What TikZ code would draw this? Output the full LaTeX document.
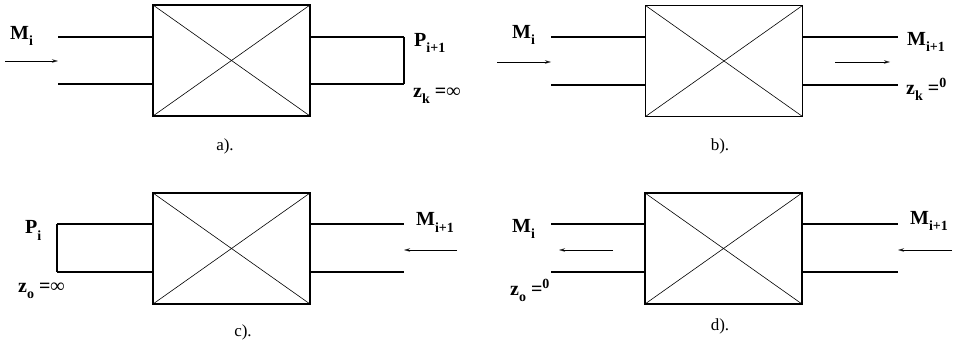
\documentclass[tikz,border=0pt]{standalone}
\usepackage{fontspec}
\setmainfont{Liberation Serif}
\usetikzlibrary{arrows.meta}

\tikzset{
    twoport/.style={draw, line width=1.5pt, minimum width=157pt, minimum height=111pt,
        inner sep=0pt,
        path picture={\draw[line width=0.6pt]
            (path picture bounding box.north west) -- (path picture bounding box.south east)
            (path picture bounding box.south west) -- (path picture bounding box.north east);}},
    wire/.style={line width=1.4pt},
    shortcut/.style={line width=2.6pt},
    flow/.style={line width=0.5pt, -{Stealth[length=6pt, width=3.5pt, open]}},
    lbl/.style={anchor=base west, inner sep=0pt, font=\fontsize{20}{22}\selectfont\bfseries},
    caption/.style={anchor=base, inner sep=0pt, font=\fontsize{17}{19}\selectfont}
}

\newcommand{\subs}[1]{\raisebox{-6pt}{\fontsize{14}{15}\selectfont\bfseries #1}}
\newcommand{\sups}[1]{\raisebox{7pt}{\fontsize{14}{15}\selectfont\bfseries #1}}

\begin{document}
\begin{tikzpicture}[x=1pt, y=-1pt]
    \useasboundingbox (0, 0) rectangle (955, 347);

    % a)
    \node[twoport] (boxa) at (231.5, 60.5) {};
    \coordinate (a-in1) at (58, 37);
    \coordinate (a-in2) at (58, 84);
    \coordinate (a-out1) at (404, 37);
    \coordinate (a-out2) at (404, 84);
    \coordinate (a-from) at (5, 61);

    \node[lbl] (a-m) at (10, 40) {M\subs{i}};
    \node[lbl] (a-p) at (414, 47) {P\subs{i+1}};
    \node[lbl] (a-z) at (413, 98) {z\subs{k} =∞};
    \node[caption] (a-cap) at (225, 151) {a).};

    \draw[wire] (a-in1) -- (boxa.west |- a-in1);
    \draw[wire] (a-in2) -- (boxa.west |- a-in2);
    \draw[wire] (boxa.east |- a-out1) -- (a-out1);
    \draw[wire] (boxa.east |- a-out2) -- (a-out2);
    \draw[shortcut] (a-out1) -- (a-out2);
    \draw[flow] (a-from) -- (a-in1 |- a-from);

    % b)
    \node[twoport] (boxb) at (724, 61) {};
    \coordinate (b-in1) at (551, 37);
    \coordinate (b-in2) at (551, 85);
    \coordinate (b-out1) at (898, 37);
    \coordinate (b-out2) at (898, 85);
    \coordinate (b-from) at (497, 62);
    \coordinate (b-to) at (890, 62);

    \node[lbl] (b-m) at (512, 39) {M\subs{i}};
    \node[lbl] (b-mo) at (907, 46) {M\subs{i+1}};
    \node[lbl] (b-z) at (906, 95) {z\subs{k} =\sups{0}};
    \node[caption] (b-cap) at (720, 151) {b).};

    \draw[wire] (b-in1) -- (boxb.west |- b-in1);
    \draw[wire] (b-in2) -- (boxb.west |- b-in2);
    \draw[wire] (boxb.east |- b-out1) -- (b-out1);
    \draw[wire] (boxb.east |- b-out2) -- (b-out2);
    \draw[flow] (b-from) -- (b-in1 |- b-from);
    \draw[flow] (835, 62) -- (b-to);

    % c)
    \node[twoport] (boxc) at (231.5, 248.5) {};
    \coordinate (c-in1) at (57, 224);
    \coordinate (c-in2) at (57, 272);
    \coordinate (c-out1) at (404, 224);
    \coordinate (c-out2) at (404, 272);
    \coordinate (c-from) at (457, 250);

    \node[lbl] (c-p) at (25, 234) {P\subs{i}};
    \node[lbl] (c-m) at (416, 226) {M\subs{i+1}};
    \node[lbl] (c-z) at (18, 292) {z\subs{o} =∞};
    \node[caption] (c-cap) at (243, 336) {c).};

    \draw[wire] (c-in1) -- (boxc.west |- c-in1);
    \draw[wire] (c-in2) -- (boxc.west |- c-in2);
    \draw[shortcut] (c-in1) -- (c-in2);
    \draw[wire] (boxc.east |- c-out1) -- (c-out1);
    \draw[wire] (boxc.east |- c-out2) -- (c-out2);
    \draw[flow] (c-from) -- (c-out1 |- c-from);

    % d)
    \node[twoport] (boxd) at (723.5, 248.5) {};
    \coordinate (d-in1) at (551, 224);
    \coordinate (d-in2) at (551, 272);
    \coordinate (d-out1) at (898, 224);
    \coordinate (d-out2) at (898, 272);
    \coordinate (d-from) at (952, 250);
    \coordinate (d-to) at (559, 250);

    \node[lbl] (d-m) at (512, 233) {M\subs{i}};
    \node[lbl] (d-mo) at (910, 225) {M\subs{i+1}};
    \node[lbl] (d-z) at (510, 295) {z\subs{o} =\sups{0}};
    \node[caption] (d-cap) at (720, 330) {d).};

    \draw[wire] (d-in1) -- (boxd.west |- d-in1);
    \draw[wire] (d-in2) -- (boxd.west |- d-in2);
    \draw[wire] (boxd.east |- d-out1) -- (d-out1);
    \draw[wire] (boxd.east |- d-out2) -- (d-out2);
    \draw[flow] (613, 250) -- (d-to);
    \draw[flow] (d-from) -- (d-out1 |- d-from);
\end{tikzpicture}
\end{document}
